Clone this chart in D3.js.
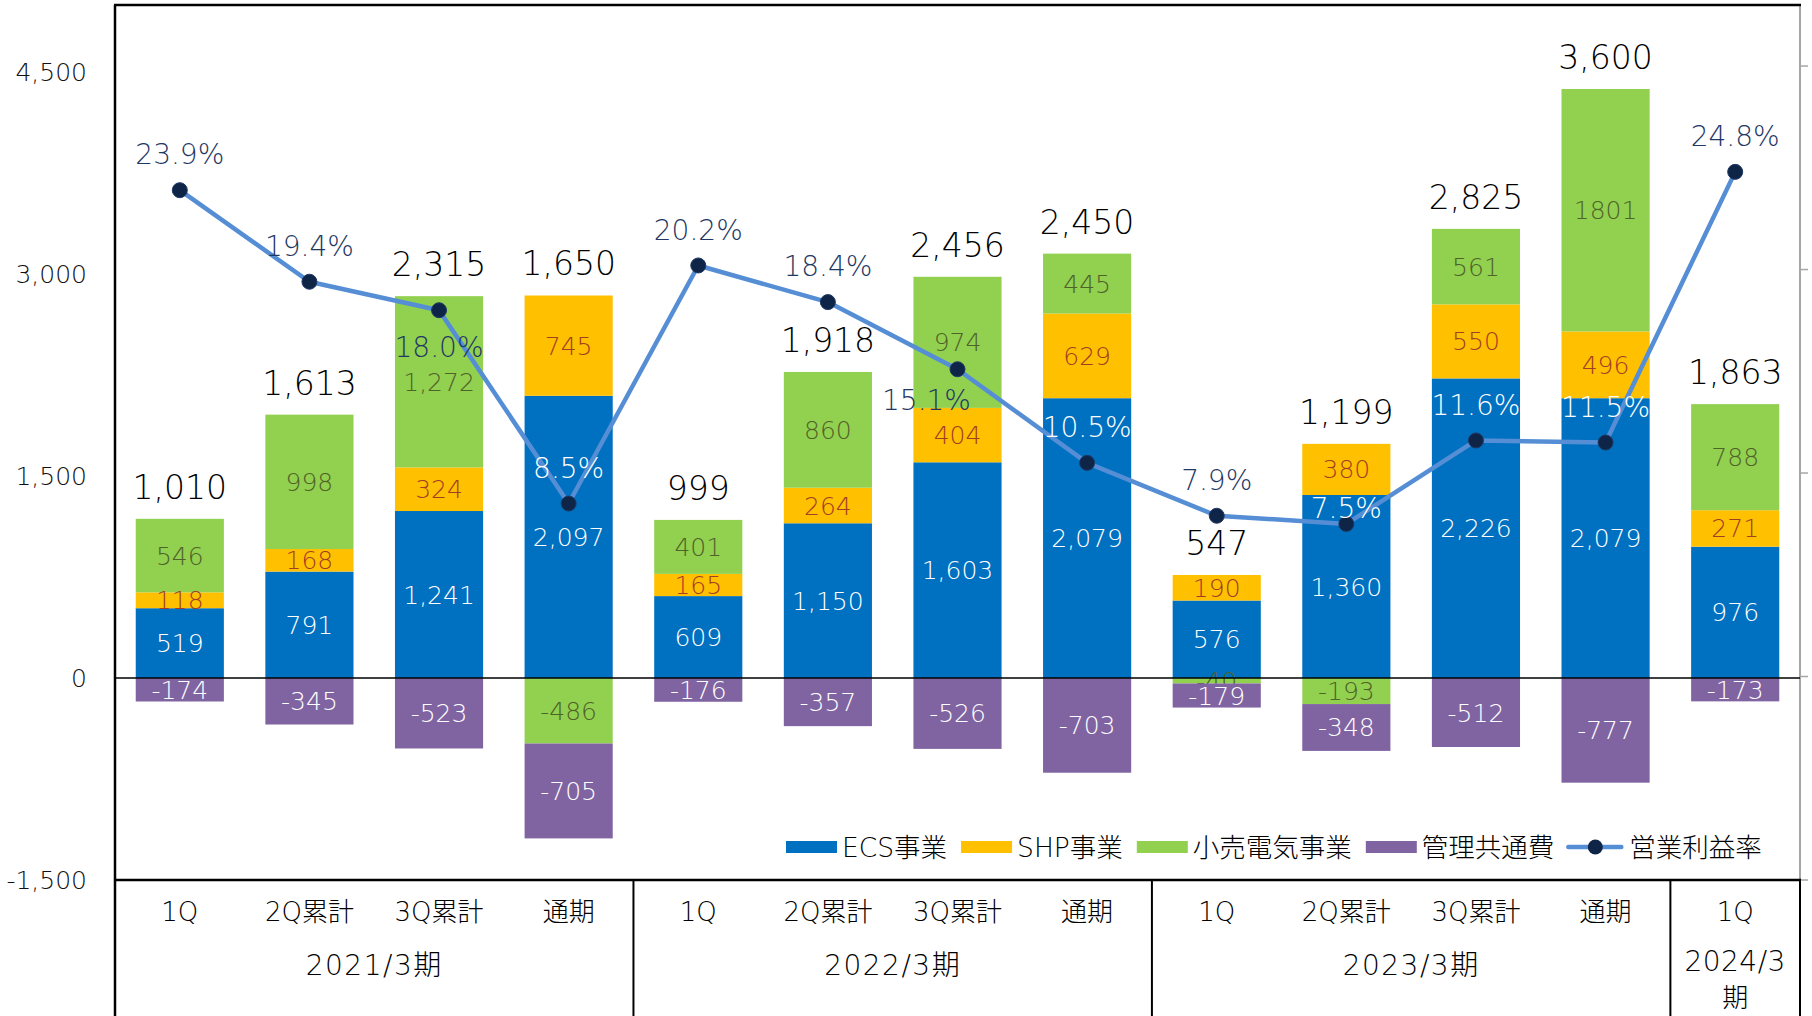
<!DOCTYPE html>
<html>
<head>
<meta charset="utf-8">
<script src="https://cdn.jsdelivr.net/npm/d3@7"></script>
<style>
    body { margin: 0; background: #fff; }
    svg { display: block; }
    svg text { font-family: "DejaVu Sans", "Noto Sans CJK JP", sans-serif; font-weight: 300; }
</style>
</head>
<body>
<div id="chart"></div>
<script>
// periods on the category axis, grouped by fiscal year
var periods = ['1Q', '2Q累計', '3Q累計', '通期', '1Q', '2Q累計', '3Q累計', '通期', '1Q', '2Q累計', '3Q累計', '通期', '1Q'];
var yearLabels = ['2021/3期', '2022/3期', '2023/3期', '2024/3期'];
var yearSpans = [4, 4, 4, 1];

// segment profit (百万円)
var ecs = [519, 791, 1241, 2097, 609, 1150, 1603, 2079, 576, 1360, 2226, 2079, 976];
var shp = [118, 168, 324, 745, 165, 264, 404, 629, 190, 380, 550, 496, 271];
var retail = [546, 998, 1272, -486, 401, 860, 974, 445, -40, -193, 561, 1801, 788];
var admin = [-174, -345, -523, -705, -176, -357, -526, -703, -179, -348, -512, -777, -173];

// operating profit and margin (%)
var totals = [1010, 1613, 2315, 1650, 999, 1918, 2456, 2450, 547, 1199, 2825, 3600, 1863];
var margins = [23.9, 19.4, 18.0, 8.5, 20.2, 18.4, 15.1, 10.5, 7.9, 7.5, 11.6, 11.5, 24.8];

var yTicks = [-1500, 0, 1500, 3000, 4500];
var pctTicks = [-10, 0, 10, 20, 30];

var seriesNames = ['ECS事業', 'SHP事業', '小売電気事業', '管理共通費'];
var lineName = '営業利益率';

var width = 1812;
var height = 1016;
var plot = { left: 115, right: 1800, top: 5, bottom: 880 };

var keys = ['ecs', 'shp', 'retail', 'admin'];
var values = { ecs: ecs, shp: shp, retail: retail, admin: admin };
var colors = { ecs: '#0070C0', shp: '#FFC000', retail: '#92D050', admin: '#8064A2' };
var labelColors = { ecs: '#FFFFFF', shp: '#A23E26', retail: '#4F6228', admin: '#FFFFFF' };

// manual nudges for a few margin labels (default sits above the marker)
var pctLabelNudge = { 2: { dx: 0, dy: 37 }, 6: { dx: -31, dy: 31 }, 9: { dx: 0, dy: -16 } };

// plain hyphen for negatives, like the original
var locale = d3.formatLocale({ decimal: '.', thousands: ',', grouping: [3], currency: ['', ''], minus: '-' });
var comma = locale.format(',');
var pct = locale.format('.1f');

var svg = d3.select('#chart')
    .append('svg')
    .attr('width', width)
    .attr('height', height);

var x = d3.scaleBand()
    .domain(d3.range(periods.length))
    .range([plot.left, plot.right])
    .paddingInner(0.32)
    .paddingOuter(0.16);

var y = d3.scaleLinear()
    .domain([-1500, 5000])
    .range([plot.bottom, plot.top]);

var yPct = d3.scaleLinear()
    .domain([-10, 33])
    .range([plot.bottom, plot.top]);

var table = periods.map(function(p, i) {
    return { ecs: ecs[i], shp: shp[i], retail: retail[i], admin: admin[i] };
});

var stacked = d3.stack()
    .keys(keys)
    .offset(d3.stackOffsetDiverging)(table);

function segText(key, i) {
    var v = values[key][i];
    // the chart prints this one without a thousands separator
    if (key === 'retail' && v >= 1800) return String(v);
    return comma(v);
}

function cx(i) {
    return x(i) + x.bandwidth() / 2;
}

function drawBars(layer) {
    svg.append('g')
        .attr('class', 'bars-' + layer.key)
        .selectAll('rect')
        .data(layer)
        .join('rect')
        .attr('x', function(d, i) { return x(i); })
        .attr('width', x.bandwidth())
        .attr('y', function(d) { return y(Math.max(d[0], d[1])); })
        .attr('height', function(d) { return Math.abs(y(d[0]) - y(d[1])); })
        .attr('fill', colors[layer.key]);
}

function drawSegLabels(layer) {
    svg.append('g')
        .attr('class', 'labels-' + layer.key)
        .selectAll('text')
        .data(layer)
        .join('text')
        .attr('x', function(d, i) { return cx(i); })
        .attr('y', function(d) { return y((d[0] + d[1]) / 2); })
        .attr('dy', '0.36em')
        .attr('text-anchor', 'middle')
        .attr('font-size', 25)
        .attr('fill', labelColors[layer.key])
        .text(function(d, i) { return segText(layer.key, i); });
}

// bars: the admin series goes last, so it covers the tiny -40 label like the original
drawBars(stacked[0]);
drawBars(stacked[1]);
drawBars(stacked[2]);
drawSegLabels(stacked[0]);
drawSegLabels(stacked[1]);
drawSegLabels(stacked[2]);
drawBars(stacked[3]);
drawSegLabels(stacked[3]);

// frame and axes lines
var frame = svg.append('g').attr('class', 'frame');

frame.append('line')
    .attr('x1', plot.right).attr('x2', plot.right)
    .attr('y1', plot.top).attr('y2', plot.bottom)
    .attr('stroke', '#A6A6A6').attr('stroke-width', 2);

frame.selectAll('line.pct-tick')
    .data(pctTicks)
    .join('line')
    .attr('class', 'pct-tick')
    .attr('x1', plot.right).attr('x2', plot.right + 8)
    .attr('y1', function(d) { return yPct(d); })
    .attr('y2', function(d) { return yPct(d); })
    .attr('stroke', '#A6A6A6').attr('stroke-width', 1.5);

frame.append('line')
    .attr('x1', plot.left).attr('x2', plot.right)
    .attr('y1', y(0)).attr('y2', y(0))
    .attr('stroke', '#000').attr('stroke-width', 1.5);

frame.append('line')
    .attr('x1', plot.left - 1).attr('x2', plot.right + 1)
    .attr('y1', plot.top).attr('y2', plot.top)
    .attr('stroke', '#000').attr('stroke-width', 2.5);

frame.append('line')
    .attr('x1', plot.left).attr('x2', plot.right + 1)
    .attr('y1', plot.bottom).attr('y2', plot.bottom)
    .attr('stroke', '#000').attr('stroke-width', 2.5);

frame.append('line')
    .attr('x1', plot.left).attr('x2', plot.left)
    .attr('y1', plot.top).attr('y2', height)
    .attr('stroke', '#000').attr('stroke-width', 2.5);

// group separators in the category table
var edges = [];
var acc = 0;
yearSpans.forEach(function(s) {
    acc += s;
    edges.push(acc);
});

frame.selectAll('line.sep')
    .data(edges)
    .join('line')
    .attr('class', 'sep')
    .attr('x1', function(d) { return plot.left + d * x.step(); })
    .attr('x2', function(d) { return plot.left + d * x.step(); })
    .attr('y1', plot.bottom).attr('y2', height)
    .attr('stroke', '#000').attr('stroke-width', 2);

// left axis labels
svg.append('g')
    .selectAll('text')
    .data(yTicks)
    .join('text')
    .attr('x', 87)
    .attr('y', function(d) { return y(d); })
    .attr('dy', '0.36em')
    .attr('text-anchor', 'end')
    .attr('font-size', 25)
    .attr('fill', '#111')
    .text(function(d) { return comma(d); });

// operating margin line
var line = d3.line()
    .x(function(d, i) { return cx(i); })
    .y(function(d) { return yPct(d); });

svg.append('path')
    .datum(margins)
    .attr('d', line)
    .attr('fill', 'none')
    .attr('stroke', '#558ED5')
    .attr('stroke-width', 4.5)
    .attr('stroke-linejoin', 'round');

svg.append('g')
    .selectAll('circle')
    .data(margins)
    .join('circle')
    .attr('cx', function(d, i) { return cx(i); })
    .attr('cy', function(d) { return yPct(d); })
    .attr('r', 7.5)
    .attr('fill', '#0F2547')
    .attr('stroke', '#1F3864')
    .attr('stroke-width', 1);

svg.append('g')
    .selectAll('text')
    .data(margins)
    .join('text')
    .each(function(d, i) {
        var n = pctLabelNudge[i] || { dx: 0, dy: -36 };
        var lx = cx(i) + n.dx;
        var ly = yPct(d) + n.dy;
        var inBlue = ly > y(ecs[i]) && ly < y(0);
        d3.select(this)
            .attr('x', lx)
            .attr('y', ly)
            .attr('fill', inBlue ? '#FFFFFF' : '#1F3864');
    })
    .attr('dy', '0.36em')
    .attr('text-anchor', 'middle')
    .attr('font-size', 28)
    .text(function(d) { return pct(d) + '%'; });

// operating profit totals above the bars
svg.append('g')
    .selectAll('text')
    .data(totals)
    .join('text')
    .attr('x', function(d, i) { return cx(i); })
    .attr('y', function(d, i) {
        var top = d3.sum(keys, function(k) { return Math.max(0, values[k][i]); });
        return y(top) - 32;
    })
    .attr('dy', '0.36em')
    .attr('text-anchor', 'middle')
    .attr('font-size', 33)
    .attr('fill', '#000')
    .text(function(d) { return comma(d); });

// category table
svg.append('g')
    .selectAll('text')
    .data(periods)
    .join('text')
    .attr('x', function(d, i) { return cx(i); })
    .attr('y', 912)
    .attr('dy', '0.36em')
    .attr('text-anchor', 'middle')
    .attr('font-size', 26)
    .attr('fill', '#000')
    .text(function(d) { return d; });

var start = 0;
yearLabels.forEach(function(label, j) {
    var x0 = plot.left + start * x.step();
    var w = yearSpans[j] * x.step();
    start += yearSpans[j];
    var t = svg.append('text')
        .attr('x', x0 + w / 2)
        .attr('y', 965)
        .attr('dy', '0.36em')
        .attr('text-anchor', 'middle')
        .attr('font-size', 28)
        .attr('letter-spacing', 1.5)
        .attr('fill', '#000')
        .text(label);
    if (t.node().getComputedTextLength() > w - 8) {
        // not enough room: push the last character to a second line
        t.text(label.slice(0, -1)).attr('y', 961).attr('letter-spacing', 0.5);
        svg.append('text')
            .attr('x', x0 + w / 2)
            .attr('y', 998)
            .attr('dy', '0.36em')
            .attr('text-anchor', 'middle')
            .attr('font-size', 26)
            .attr('fill', '#000')
            .text(label.slice(-1));
    }
});

// legend
var legend = svg.append('g').attr('class', 'legend');
var ly = 847;
var lx = 786;

keys.forEach(function(k, j) {
    legend.append('rect')
        .attr('x', lx).attr('y', ly - 6)
        .attr('width', 51).attr('height', 12)
        .attr('fill', colors[k]);
    var t = legend.append('text')
        .attr('x', lx + 56).attr('y', ly)
        .attr('dy', '0.36em')
        .attr('font-size', 26.5)
        .attr('fill', '#000')
        .text(seriesNames[j]);
    lx = lx + 56 + t.node().getComputedTextLength() + 14;
});

legend.append('line')
    .attr('x1', lx).attr('x2', lx + 53)
    .attr('y1', ly).attr('y2', ly)
    .attr('stroke', '#558ED5').attr('stroke-width', 4.5)
    .attr('stroke-linecap', 'round');
legend.append('circle')
    .attr('cx', lx + 27).attr('cy', ly)
    .attr('r', 7.5)
    .attr('fill', '#0F2547');
legend.append('text')
    .attr('x', lx + 61).attr('y', ly)
    .attr('dy', '0.36em')
    .attr('font-size', 26.5)
    .attr('fill', '#000')
    .text(lineName);
</script>
</body>
</html>
